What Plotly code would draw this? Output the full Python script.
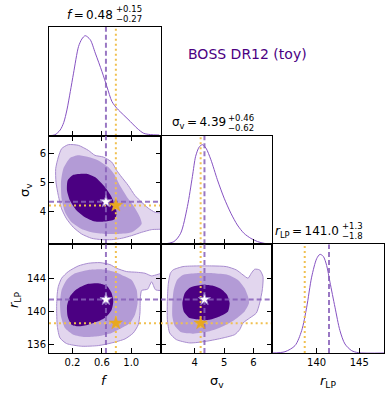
import plotly.graph_objects as go

W, H = 391, 396

# ---------------- data ----------------
f_ticks = [0.2, 0.6, 1.0]
f_ticklabels = ["0.2", "0.6", "1.0"]
sig_ticks = [4, 5, 6]
sig_ticklabels = ["4", "5", "6"]
r_yticks = [136, 140, 144]
r_xticks = [140, 145]

# truth (gold) and best-fit (purple) values
truth = {"f": 0.79, "sig": 4.2, "r": 138.6}
best = {"f": 0.655, "sig": 4.33, "r": 141.45}

# 1D marginal densities (relative height)
f_grid = [-0.114, -0.04, 0.032, 0.08, 0.124, 0.17, 0.214, 0.282, 0.327, 0.373, 0.441, 0.510,
          0.601, 0.669, 0.737, 0.806, 0.896, 0.987, 1.079, 1.169, 1.26, 1.38]
f_dens = [0.0, 0.008, 0.052, 0.12, 0.237, 0.406, 0.575, 0.82, 0.889, 0.92, 0.883, 0.76,
          0.59, 0.45, 0.314, 0.25, 0.19, 0.13, 0.068, 0.022, 0.01, 0.006]

sig_grid = [2.84, 3.29, 3.52, 3.75, 3.92, 4.03, 4.15, 4.26, 4.38, 4.55, 4.77, 5.0, 5.23,
            5.45, 5.68, 5.91, 6.14, 6.37, 6.64]
sig_dens = [0.0, 0.025, 0.102, 0.348, 0.625, 0.81, 0.895, 0.917, 0.886, 0.778, 0.594, 0.425,
            0.286, 0.178, 0.1, 0.055, 0.025, 0.009, 0.003]

r_grid = [134.8, 136.28, 137.46, 138.24, 138.83, 139.41, 140.0, 140.39, 140.78, 141.17,
          141.56, 142.15, 142.73, 143.32, 144.1, 144.88, 147.9]
r_dens = [0.0, 0.012, 0.068, 0.206, 0.421, 0.698, 0.868, 0.908, 0.889, 0.806, 0.652, 0.421,
          0.206, 0.083, 0.022, 0.003, 0.0]

# 2D credible-region outlines (f, sigma_v)
fs_light_f = [0.143, 0.279, 0.415, 0.506, 0.619, 0.733, 0.801, 0.869, 0.959, 1.050, 1.141, 1.231,
              1.322, 1.45, 1.45, 1.277, 1.141, 1.005, 0.869, 0.733, 0.597, 0.460, 0.324, 0.211,
              0.120, 0.052, 0.007, -0.025, -0.029, 0.007, 0.052]
fs_light_s = [6.326, 6.303, 6.127, 5.952, 5.893, 5.718, 5.425, 5.191, 4.899, 4.548, 4.314, 4.104,
              3.963, 3.905, 3.402, 3.355, 3.261, 3.145, 3.051, 3.004, 3.004, 3.051, 3.203, 3.437,
              3.729, 4.080, 4.548, 5.016, 5.484, 5.893, 6.186]
fs_mid_f = [0.279, 0.415, 0.551, 0.687, 0.778, 0.846, 0.959, 1.027, 1.118, 1.141, 1.005, 0.823,
            0.642, 0.460, 0.324, 0.188, 0.098, 0.052, 0.043, 0.075, 0.166]
fs_mid_s = [5.952, 5.893, 5.776, 5.542, 5.250, 4.899, 4.431, 4.197, 3.788, 3.554, 3.261, 3.203,
            3.203, 3.261, 3.379, 3.613, 3.963, 4.431, 5.016, 5.484, 5.858]
fs_dark_f = [0.211, 0.392, 0.506, 0.642, 0.733, 0.787, 0.801, 0.769, 0.642, 0.506, 0.370, 0.256,
             0.166, 0.125, 0.134]
fs_dark_s = [5.273, 5.308, 5.191, 4.841, 4.490, 4.139, 3.905, 3.706, 3.636, 3.636, 3.788, 4.022,
             4.373, 4.724, 5.074]

# (f, r_LP)
fr_light_f = [0.007, 0.052, 0.143, 0.279, 0.415, 0.574, 0.710, 0.801, 0.937, 1.073, 1.186, 1.277,
              1.45, 1.45, 1.331, 1.277, 1.222, 1.141, 1.123, 1.118, 1.095, 1.027, 0.914, 0.733,
              0.551, 0.324, 0.120, 0.030, -0.007, -0.016, -0.007]
fr_light_r = [143.016, 144.016, 144.816, 145.496, 145.816, 145.896, 145.656, 145.216, 144.816,
              144.736, 144.616, 144.296, 144.616, 142.616, 142.616, 143.576, 142.696, 142.536,
              141.616, 139.816, 138.416, 137.416, 136.696, 136.216, 135.896, 135.816, 136.136,
              136.816, 138.216, 140.616, 142.216]
fr_mid_f = [0.234, 0.415, 0.597, 0.755, 0.869, 1.005, 1.073, 1.086, 1.050, 0.982, 0.869, 0.733,
            0.551, 0.370, 0.211, 0.098, 0.043, 0.030, 0.052, 0.120]
fr_mid_r = [144.616, 145.016, 145.096, 144.816, 144.416, 143.816, 142.616, 141.016, 139.616,
            138.616, 138.016, 137.416, 137.016, 136.936, 137.216, 138.016, 139.416, 141.016,
            142.616, 143.816]
fr_dark_f = [0.279, 0.415, 0.551, 0.665, 0.733, 0.755, 0.733, 0.665, 0.551, 0.415, 0.279, 0.188,
             0.134, 0.125, 0.166, 0.234]
fr_dark_r = [142.816, 143.336, 143.416, 143.096, 142.216, 141.216, 140.216, 139.416, 138.816,
             138.416, 138.216, 138.416, 139.416, 140.616, 141.816, 142.536]

# (sigma_v, r_LP)
sr_light_s = [3.170, 3.261, 3.601, 4.054, 4.621, 5.075, 5.415, 5.642, 5.812, 5.925, 6.039, 6.209,
              6.322, 6.299, 6.209, 6.095, 5.869, 5.642, 5.528, 5.358, 4.962, 4.395, 3.828, 3.374,
              3.147, 3.068, 3.068, 3.102]
sr_light_r = [144.616, 145.016, 145.416, 145.496, 145.496, 145.416, 145.016, 144.416, 144.016,
              144.616, 145.096, 145.016, 144.216, 142.616, 141.016, 139.816, 139.216, 138.616,
              137.816, 137.216, 136.816, 136.416, 136.216, 136.616, 137.416, 139.016, 141.416,
              143.416]
sr_mid_s = [3.397, 3.601, 4.054, 4.621, 5.132, 5.472, 5.698, 5.812, 5.846, 5.698, 5.358, 4.962,
            4.508, 3.941, 3.544, 3.318, 3.238, 3.238, 3.284]
sr_mid_r = [143.816, 144.416, 144.616, 144.616, 144.416, 143.816, 142.816, 141.816, 141.016,
            140.016, 139.016, 138.216, 137.616, 137.336, 137.496, 138.296, 139.416, 141.016,
            142.616]
sr_dark_s = [3.805, 3.941, 4.281, 4.621, 4.905, 5.098, 5.188, 5.132, 4.848, 4.508, 4.168, 3.828,
             3.624, 3.578, 3.658]
sr_dark_r = [142.816, 143.016, 143.216, 143.096, 142.696, 142.016, 141.016, 140.016, 139.416,
             139.016, 139.016, 139.216, 140.016, 141.016, 142.216]

# ---------------- styling ----------------
FONT = "DejaVu Sans"
C_DARK = "#4b0082"
C_MID = "#b39bd6"
C_LIGHT = "#e2d6ee"
C_EDGE = "#a88ccf"
C_CURVE = "#8652c2"
C_BEST = "rgba(135,95,185,0.85)"
C_TRUE = "#f0c050"

f_range = [-0.12, 1.40]
sig_xrange = [2.84, 6.64]
sig_yrange = [2.84, 6.64]
r_xrange = [134.8, 147.9]
r_yrange = [135.0, 148.1]

X0, PW = 49.0, 111.67
Y0, PH = 27.0, 108.67


def xdom(c):
    return [(X0 + c * PW) / W, (X0 + (c + 1) * PW) / W]


def ydom(r):
    return [1 - (Y0 + (r + 1) * PH) / H, 1 - (Y0 + r * PH) / H]


fig = go.Figure()

panels = {
    1: dict(row=0, col=0, xr=f_range, yr=[0, 1], diag=True),
    2: dict(row=1, col=0, xr=f_range, yr=sig_yrange, diag=False),
    3: dict(row=1, col=1, xr=sig_xrange, yr=[0, 1], diag=True),
    4: dict(row=2, col=0, xr=f_range, yr=r_yrange, diag=False),
    5: dict(row=2, col=1, xr=sig_xrange, yr=r_yrange, diag=False),
    6: dict(row=2, col=2, xr=r_xrange, yr=[0, 1], diag=True),
}


def ax(k):
    return ("x" if k == 1 else f"x{k}", "y" if k == 1 else f"y{k}")


def add_fill(k, xs, ys, color, edge=None):
    xa, ya = ax(k)
    fig.add_trace(go.Scatter(
        x=list(xs) + [xs[0]], y=list(ys) + [ys[0]], xaxis=xa, yaxis=ya,
        mode="lines", fill="toself", fillcolor=color,
        line=dict(color=edge if edge else color, width=1 if edge else 0, shape="spline",
                  smoothing=0.6),
        hoverinfo="skip", showlegend=False))


def add_curve(k, xs, ys):
    xa, ya = ax(k)
    fig.add_trace(go.Scatter(x=xs, y=ys, xaxis=xa, yaxis=ya, mode="lines",
                             line=dict(color=C_CURVE, width=1, shape="spline", smoothing=0.8),
                             hoverinfo="skip", showlegend=False))


def vline(k, v, color, dash, width):
    xa, ya = ax(k)
    yr = panels[k]["yr"]
    fig.add_trace(go.Scatter(x=[v, v], y=[yr[0], yr[1]], xaxis=xa, yaxis=ya, mode="lines",
                             line=dict(color=color, dash=dash, width=width),
                             hoverinfo="skip", showlegend=False))


def hline(k, v, color, dash, width):
    xa, ya = ax(k)
    xr = panels[k]["xr"]
    fig.add_trace(go.Scatter(x=[xr[0], xr[1]], y=[v, v], xaxis=xa, yaxis=ya, mode="lines",
                             line=dict(color=color, dash=dash, width=width),
                             hoverinfo="skip", showlegend=False))


def stars(k, bx, by, tx, ty):
    xa, ya = ax(k)
    fig.add_trace(go.Scatter(x=[tx], y=[ty], xaxis=xa, yaxis=ya, mode="markers",
                             marker=dict(symbol="star", size=10, color="#e8a820",
                                         line=dict(color="#e8a820", width=0.5)),
                             hoverinfo="skip", showlegend=False))
    fig.add_trace(go.Scatter(x=[bx], y=[by], xaxis=xa, yaxis=ya, mode="markers",
                             marker=dict(symbol="star", size=9, color="white",
                                         line=dict(color="#9a7cc8", width=1)),
                             hoverinfo="skip", showlegend=False))


for k, (lx, ly), (mx, my), (dx, dy) in [
    (2, (fs_light_f, fs_light_s), (fs_mid_f, fs_mid_s), (fs_dark_f, fs_dark_s)),
    (4, (fr_light_f, fr_light_r), (fr_mid_f, fr_mid_r), (fr_dark_f, fr_dark_r)),
    (5, (sr_light_s, sr_light_r), (sr_mid_s, sr_mid_r), (sr_dark_s, sr_dark_r)),
]:
    add_fill(k, lx, ly, C_LIGHT, C_EDGE)
    add_fill(k, mx, my, C_MID)
    add_fill(k, dx, dy, C_DARK)

add_curve(1, f_grid, f_dens)
add_curve(3, sig_grid, sig_dens)
add_curve(6, r_grid, r_dens)

DASH_B = "5px,3px"
DASH_T = "2px,3px"
for k in (1, 2, 4):
    vline(k, truth["f"], C_TRUE, DASH_T, 2)
    vline(k, best["f"], C_BEST, DASH_B, 2)
for k in (3, 5):
    vline(k, truth["sig"], C_TRUE, DASH_T, 2)
    vline(k, best["sig"], C_BEST, DASH_B, 2)
vline(6, truth["r"], C_TRUE, DASH_T, 2)
vline(6, best["r"], C_BEST, DASH_B, 2)
hline(2, truth["sig"], C_TRUE, DASH_T, 2)
hline(2, best["sig"], C_BEST, DASH_B, 2)
for k in (4, 5):
    hline(k, truth["r"], C_TRUE, DASH_T, 2)
    hline(k, best["r"], C_BEST, DASH_B, 2)

stars(2, best["f"], best["sig"], truth["f"], truth["sig"])
stars(4, best["f"], best["r"], truth["f"], truth["r"])
stars(5, best["sig"], best["r"], truth["sig"], truth["r"])

tickfont = dict(family=FONT, size=10, color="black")
layout_axes = {}
xtick_info = {0: (f_ticks, f_ticklabels), 1: (sig_ticks, sig_ticklabels),
              2: (r_xticks, [str(v) for v in r_xticks])}
for k, p in panels.items():
    xname = "xaxis" if k == 1 else f"xaxis{k}"
    yname = "yaxis" if k == 1 else f"yaxis{k}"
    xa, ya = ax(k)
    tv, tt = xtick_info[p["col"]]
    layout_axes[xname] = dict(
        domain=xdom(p["col"]), range=p["xr"], anchor=ya, showgrid=False, zeroline=False,
        showline=True, linecolor="black", linewidth=1,
        mirror=True if p["diag"] else "ticks",
        ticks="inside", ticklen=5, tickwidth=1, tickcolor="black",
        tickvals=tv, ticktext=tt, showticklabels=(p["row"] == 2), tickfont=tickfont)
    if p["diag"]:
        yticks = dict(ticks="", showticklabels=False)
    else:
        if k == 2:
            tv2, tt2 = sig_ticks, sig_ticklabels
        else:
            tv2, tt2 = r_yticks, [str(v) for v in r_yticks]
        yticks = dict(ticks="inside", ticklen=5, tickwidth=1, tickcolor="black",
                      tickvals=tv2, ticktext=tt2, showticklabels=(p["col"] == 0),
                      tickfont=tickfont)
    layout_axes[yname] = dict(
        domain=ydom(p["row"]), range=p["yr"], anchor=xa, showgrid=False, zeroline=False,
        showline=True, linecolor="black", linewidth=1,
        mirror=True if p["diag"] else "ticks", **yticks)

fig.update_layout(width=W, height=H, margin=dict(l=0, r=0, t=0, b=0),
                  paper_bgcolor="white", plot_bgcolor="white", showlegend=False,
                  font=dict(family=FONT, color="black"), **layout_axes)


def ann(text, x, y, size, xanchor="center", color="black", angle=0):
    fig.add_annotation(text=text, x=x / W, y=1 - y / H, xref="paper", yref="paper",
                       showarrow=False, xanchor=xanchor, yanchor="middle", textangle=angle,
                       borderpad=0,
                       font=dict(family=FONT, size=size, color=color))


TS = "\u2009"
titles = [
    (f"<i>f</i>{TS}={TS}0.48", "+0.15", "−0.27"),
    (f"σ<sub>v</sub>{TS}={TS}4.39", "+0.46", "−0.62"),
    (f"<i>r</i><sub>LP</sub>{TS}={TS}141.0", "+1.3", "−1.8"),
]
title_right = [114.0, 226.5, 340.0]
for i, (main, sup, sub) in enumerate(titles):
    top = Y0 + i * PH
    ann(main, title_right[i], top - 12.5, 12, xanchor="right")
    ann(sup, title_right[i] + 0.5, top - 18, 8.5, xanchor="left")
    ann(sub, title_right[i] + 0.5, top - 8, 8.5, xanchor="left")

ann("<i>f</i>", 104.5, 380, 13)
ann("σ<sub>v</sub>", 217, 381, 13)
ann("<i>r</i><sub>LP</sub>", 328, 381, 13)
ann("σ<sub>v</sub>", 25, 190, 13, angle=-90)
ann("<i>r</i><sub>LP</sub>", 14, 300, 13, angle=-90)

ann("BOSS DR12 (toy)", 247.5, 53.5, 14, color=C_DARK)

fig.write_html("out.html", config={"displayModeBar": False},
               post_script="document.body.style.margin='0';")
